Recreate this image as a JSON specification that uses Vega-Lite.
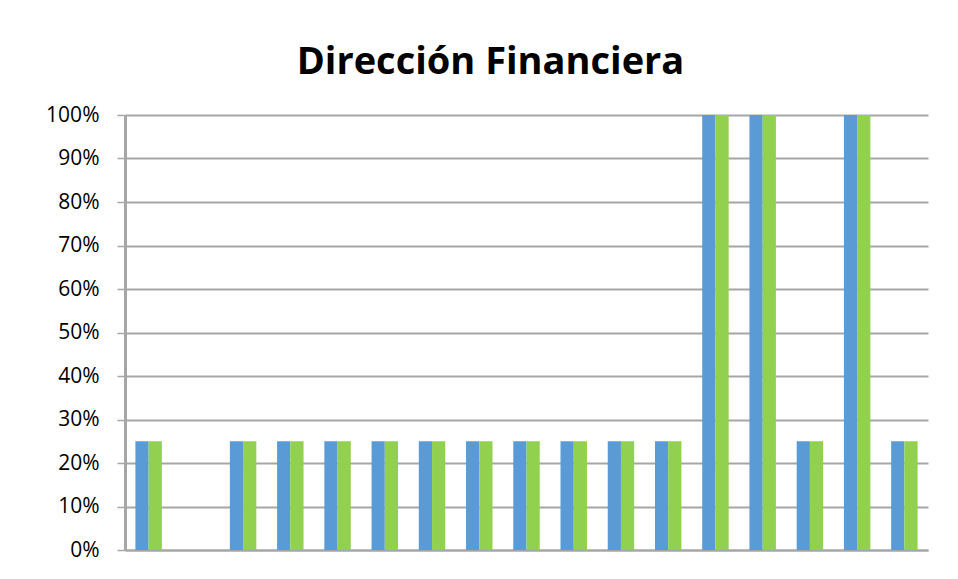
{
  "$schema": "https://vega.github.io/schema/vega-lite/v6.json",
  "width": 803,
  "height": 435,
  "autosize": "none",
  "padding": {"left": 125, "top": 115, "right": 30, "bottom": 29},
  "background": "white",
  "title": {
    "text": "Dirección Financiera",
    "font": "Open Sans",
    "fontSize": 38,
    "fontWeight": "bold",
    "color": "#000000",
    "anchor": "middle",
    "dx": -36,
    "offset": 22
  },
  "data": {
    "values": [
      {"cat": "1", "serie": "A", "value": 0.25},
      {"cat": "1", "serie": "B", "value": 0.25},
      {"cat": "3", "serie": "A", "value": 0.25},
      {"cat": "3", "serie": "B", "value": 0.25},
      {"cat": "4", "serie": "A", "value": 0.25},
      {"cat": "4", "serie": "B", "value": 0.25},
      {"cat": "5", "serie": "A", "value": 0.25},
      {"cat": "5", "serie": "B", "value": 0.25},
      {"cat": "6", "serie": "A", "value": 0.25},
      {"cat": "6", "serie": "B", "value": 0.25},
      {"cat": "7", "serie": "A", "value": 0.25},
      {"cat": "7", "serie": "B", "value": 0.25},
      {"cat": "8", "serie": "A", "value": 0.25},
      {"cat": "8", "serie": "B", "value": 0.25},
      {"cat": "9", "serie": "A", "value": 0.25},
      {"cat": "9", "serie": "B", "value": 0.25},
      {"cat": "10", "serie": "A", "value": 0.25},
      {"cat": "10", "serie": "B", "value": 0.25},
      {"cat": "11", "serie": "A", "value": 0.25},
      {"cat": "11", "serie": "B", "value": 0.25},
      {"cat": "12", "serie": "A", "value": 0.25},
      {"cat": "12", "serie": "B", "value": 0.25},
      {"cat": "13", "serie": "A", "value": 1.0},
      {"cat": "13", "serie": "B", "value": 1.0},
      {"cat": "14", "serie": "A", "value": 1.0},
      {"cat": "14", "serie": "B", "value": 1.0},
      {"cat": "15", "serie": "A", "value": 0.25},
      {"cat": "15", "serie": "B", "value": 0.25},
      {"cat": "16", "serie": "A", "value": 1.0},
      {"cat": "16", "serie": "B", "value": 1.0},
      {"cat": "17", "serie": "A", "value": 0.25},
      {"cat": "17", "serie": "B", "value": 0.25}
    ]
  },
  "mark": {"type": "bar", "stroke": null},
  "encoding": {
    "x": {
      "field": "cat",
      "type": "ordinal",
      "scale": {
        "domain": ["1","2","3","4","5","6","7","8","9","10","11","12","13","14","15","16","17"],
        "paddingInner": 0.44,
        "paddingOuter": 0.22
      },
      "axis": {
        "title": null,
        "labels": false,
        "ticks": false,
        "domain": true,
        "domainColor": "#a6a6a6",
        "domainWidth": 2,
        "grid": false
      }
    },
    "xOffset": {"field": "serie", "type": "nominal", "scale": {"paddingInner": 0}},
    "y": {
      "field": "value",
      "type": "quantitative",
      "scale": {"domain": [0, 1], "nice": false},
      "axis": {
        "title": null,
        "format": ".0%",
        "values": [0, 0.1, 0.2, 0.3, 0.4, 0.5, 0.6, 0.7, 0.8, 0.9, 1.0],
        "labelFont": "Open Sans",
        "labelFontSize": 21,
        "labelColor": "#000000",
        "labelPadding": 18,
        "tickColor": "#a6a6a6",
        "tickSize": 8,
        "tickWidth": 1.5,
        "domainColor": "#a6a6a6",
        "domainWidth": 3,
        "grid": true,
        "gridColor": "#a6a6a6",
        "gridWidth": 2
      }
    },
    "color": {
      "field": "serie",
      "type": "nominal",
      "scale": {"domain": ["A", "B"], "range": ["#5B9BD5", "#92D050"]},
      "legend": null
    }
  },
  "config": {
    "view": {"stroke": null}
  }
}
